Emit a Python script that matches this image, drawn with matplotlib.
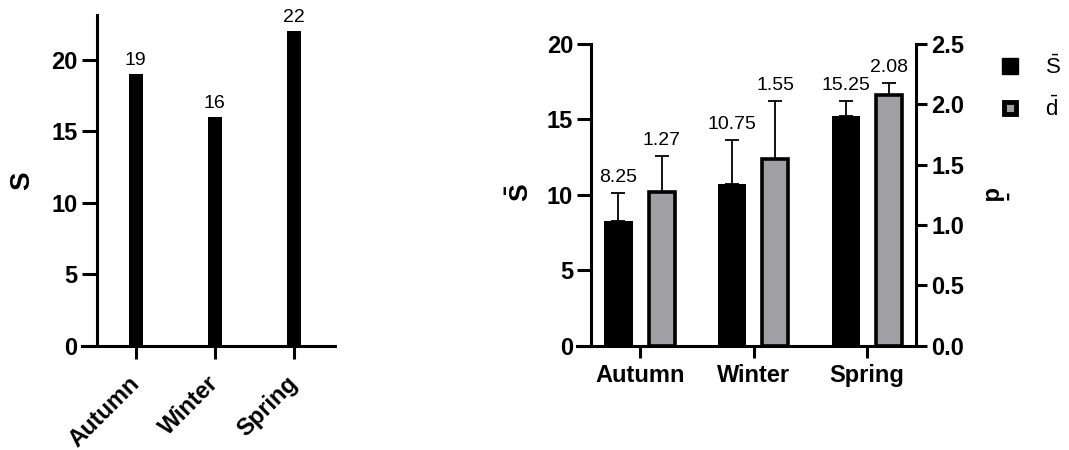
import matplotlib
matplotlib.use('Agg')
from matplotlib import pyplot as plt
from matplotlib.lines import Line2D

plt.rcParams['font.family'] = ['Liberation Sans', 'DejaVu Sans']
plt.rcParams['mathtext.fontset'] = 'custom'
plt.rcParams['mathtext.rm'] = 'Liberation Sans'
plt.rcParams['mathtext.it'] = 'Liberation Sans'
plt.rcParams['mathtext.bf'] = 'Liberation Sans:bold'

seasons = ['Autumn', 'Winter', 'Spring']
S_total = [19, 16, 22]

S_mean = [8.25, 10.75, 15.25]
S_err = [1.9, 2.9, 0.97]
d_mean = [1.27, 1.55, 2.08]
d_err = [0.30, 0.48, 0.095]

lw = 2.2
tick_fs = 17
fig = plt.figure(figsize=(10.69, 4.5), dpi=100)

# --- grafica izquierda: S total por estacion
ax1 = fig.add_axes([0.0767, 0.2318, 0.2367, 0.7349])
x1 = list(range(len(seasons)))
ax1.bar(x1, S_total, width=0.18, color='black')
for x, v in zip(x1, S_total):
    ax1.annotate(str(v), (x, v), xytext=(0, 4), textcoords='offset points',
                 ha='center', va='bottom', fontsize=14)
ax1.set_xlim(-0.68, 2.52)
ax1.set_ylim(0, 23.15)
ax1.set_yticks([0, 5, 10, 15, 20])
ax1.set_xticks(x1)
ax1.set_xticklabels(seasons, rotation=45, ha='right', va='center',
                    rotation_mode='anchor', fontweight='bold', fontsize=tick_fs)
ax1.spines['top'].set_visible(False)
ax1.spines['right'].set_visible(False)
ax1.spines['left'].set_position(('data', -0.49))
for s in ['left', 'bottom']:
    ax1.spines[s].set_linewidth(lw)
ax1.tick_params(axis='y', length=11, width=lw, labelsize=tick_fs, pad=3)
ax1.tick_params(axis='x', length=9.5, width=lw, pad=15)
for t in ax1.get_yticklabels():
    t.set_fontweight('bold')
ax1.set_ylabel('S', fontsize=20, fontweight='bold', va='center', ha='center')
ax1.yaxis.set_label_coords(-0.237, 0.5)

# --- grafica derecha: promedios S y d con barras de error
ax = fig.add_axes([0.5398, 0.2318, 0.3171, 0.6704])
ax2 = ax.twinx()
x2 = list(range(len(seasons)))
off = 0.19
w = 0.247
xs = [x - off for x in x2]
xd = [x + off for x in x2]

ax.bar(xs, S_mean, width=w, color='black', zorder=2)
ax.errorbar(xs, S_mean, yerr=[[0] * 3, S_err], fmt='none', ecolor='black',
            elinewidth=1.3, capsize=5, capthick=1.3, zorder=1)
ax2.bar(xd, d_mean, width=w - 0.02, color='#a0a0a4', edgecolor='black',
        linewidth=2.6, zorder=2)
ax2.errorbar(xd, d_mean, yerr=[[0] * 3, d_err], fmt='none', ecolor='black',
             elinewidth=1.3, capsize=5, capthick=1.3, zorder=1)

for x, v, e in zip(xs, S_mean, S_err):
    ax.annotate(str(v), (x, v + e), xytext=(0, 5), textcoords='offset points',
                ha='center', va='bottom', fontsize=14)
for x, v, e in zip(xd, d_mean, d_err):
    ax2.annotate(str(v), (x, v + e), xytext=(0, 5), textcoords='offset points',
                 ha='center', va='bottom', fontsize=14)

ax.set_xlim(-0.555, 2.43)
ax.set_ylim(0, 20)
ax2.set_ylim(0, 2.5)
ax.set_yticks([0, 5, 10, 15, 20])
ax2.set_yticks([0, 0.5, 1.0, 1.5, 2.0, 2.5])
ax2.set_yticklabels(['0.0', '0.5', '1.0', '1.5', '2.0', '2.5'])
ax.set_xticks(x2)
ax.set_xticklabels(seasons, fontweight='bold', fontsize=tick_fs)

ax.spines['top'].set_visible(False)
ax.spines['right'].set_visible(False)
ax.spines['left'].set_position(('data', -0.43))
ax2.spines['top'].set_visible(False)
ax2.spines['left'].set_visible(False)
ax2.spines['bottom'].set_visible(False)
for s in ['left', 'bottom']:
    ax.spines[s].set_linewidth(lw)
ax2.spines['right'].set_linewidth(lw)
ax.tick_params(axis='y', length=10, width=lw, labelsize=tick_fs, pad=3)
ax.tick_params(axis='x', length=8.5, width=lw, pad=5)
ax2.tick_params(axis='y', length=8, width=lw, labelsize=tick_fs, pad=3)
for t in ax.get_yticklabels() + ax2.get_yticklabels():
    t.set_fontweight('bold')

ax.set_ylabel(r'$\mathbf{\bar{S}}$', fontsize=19, va='center', ha='center')
ax.yaxis.set_label_coords(-0.168, 0.506)
ax2.set_ylabel(r'$\mathbf{\bar{d}}$', fontsize=17, rotation=270,
               va='center', ha='center')
ax2.yaxis.set_label_coords(1.225, 0.506)

handles = [
    Line2D([], [], linestyle='none', marker='s', markersize=11,
           markerfacecolor='black', markeredgecolor='black', markeredgewidth=1),
    Line2D([], [], linestyle='none', marker='s', markersize=9,
           markerfacecolor='#a0a0a4', markeredgecolor='black', markeredgewidth=3.5),
]
fig.legend(handles, [r'$\mathrm{\bar{S}}$', r'$\mathrm{\bar{d}}$'], loc='upper left',
           bbox_to_anchor=(0.9156, 0.92), frameon=False, fontsize=16,
           handlelength=1.0, handletextpad=1.1, labelspacing=0.8)

fig.savefig('out.png', dpi=100)
